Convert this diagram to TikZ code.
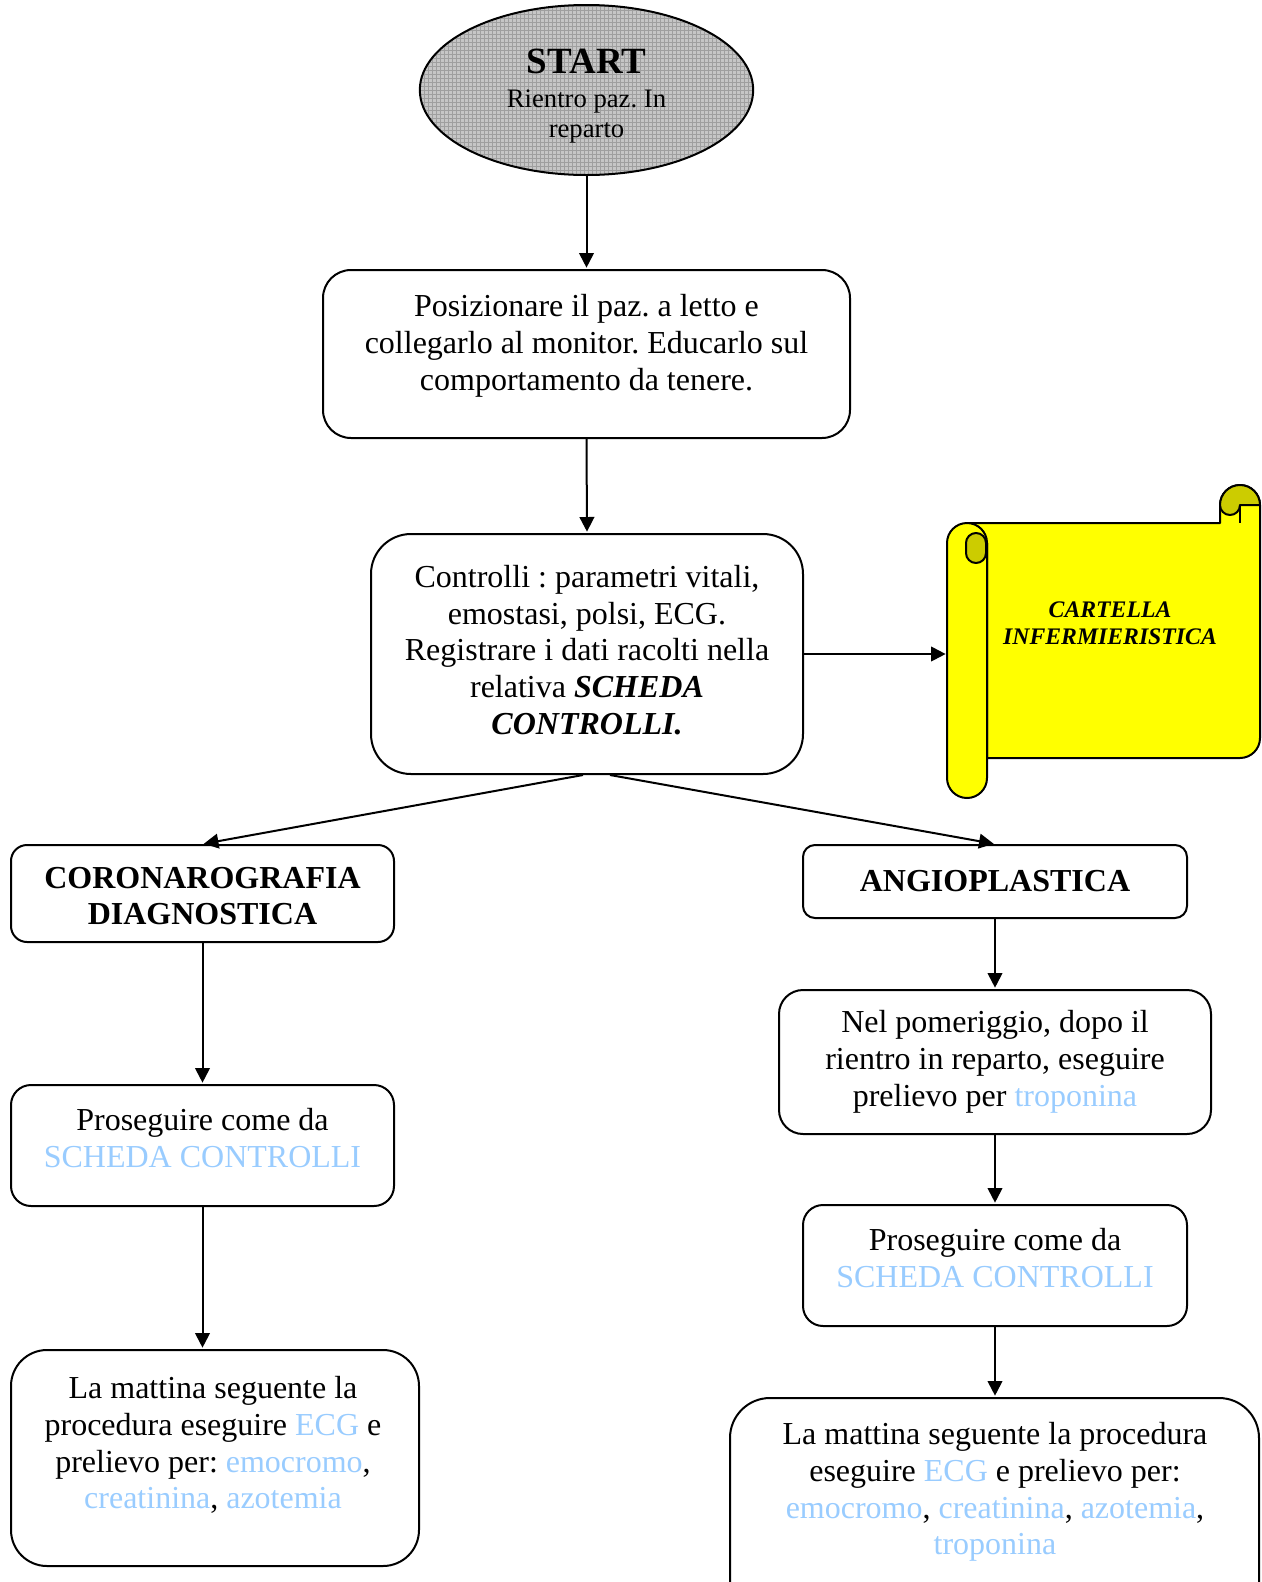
\documentclass[tikz,border=0pt]{standalone}
\usepackage{fontspec}
\setmainfont{Liberation Serif}
\usetikzlibrary{shapes.geometric,arrows.meta,calc,patterns}
\definecolor{lb}{HTML}{99CCFF}
\definecolor{scrollY}{HTML}{FFFF00}
\definecolor{scrollD}{HTML}{CCCC00}
\newcommand\lk[1]{\textcolor{lb}{#1}}
\frenchspacing
\begin{document}
\begin{tikzpicture}[x=0.75pt,y=-0.75pt,
  box/.style={draw, line width=1.5pt, rounded corners=#1, inner sep=0pt},
  txt/.style={align=center, inner sep=0pt, font=\fontsize{24}{27.6}\selectfont},
  arr/.style={line width=1.5pt, -{Triangle[length=11pt,width=11pt]}, shorten >=1pt},
  scrl/.style={line width=1.5pt, line join=round}
]
\useasboundingbox (0,0) rectangle (1261,1582);

% START ellipse
\node[draw, line width=1.5pt, ellipse, minimum width=250pt, minimum height=127.5pt,
      inner sep=0pt, preaction={fill=gray!45}, pattern=grid, pattern color=gray!75] (start) at (586.5,90) {};
\node[align=center, inner sep=0pt, anchor=north, font=\fontsize{20}{22.5}\selectfont] (startt) at (586.5,48.5)
  {{\fontsize{27.75}{30}\selectfont\bfseries START}\\[3pt]Rientro paz. In\\reparto};

% box 2
\node[box=21pt, minimum width=395.25pt, minimum height=126pt] (b2) at (586.5,354) {};
\node[txt] (b2t) at (586.5,346) {Posizionare il paz. a letto e\\collegarlo al monitor. Educarlo sul\\comportamento da tenere.};

% box 3
\node[box=30pt, minimum width=324pt, minimum height=180pt] (b3) at (587,654) {};
\node[txt] (b3t) at (587,650) {Controlli : parametri vitali,\\emostasi, polsi, ECG.\\Registrare i dati racolti nella\\relativa \textbf{\textit{SCHEDA}}\\\textbf{\textit{CONTROLLI.}}};

% scroll
\draw[scrl, fill=scrollY] (967,523) -- (1220,523) -- (1220,505)
  arc[start angle=180, end angle=360, radius=20] -- (1260,738)
  arc[start angle=0, end angle=90, radius=20] -- (987,758) -- (987,543) -- cycle;
\draw[scrl, fill=scrollD] (1220,505) arc[start angle=180, end angle=360, radius=20]
  -- (1240,505) arc[start angle=0, end angle=180, radius=10] -- cycle;
\draw[scrl] (1240,505) -- (1240,523);
\draw[scrl, fill=scrollY] (947,543) -- (947,778) arc[start angle=180, end angle=0, radius=20]
  -- (987,543) arc[start angle=0, end angle=-180, radius=20] -- cycle;
\draw[scrl, fill=scrollD] (966,553) -- (966,543) arc[start angle=180, end angle=360, radius=10]
  -- (986,553) arc[start angle=0, end angle=180, radius=10] -- cycle;
\node[align=center, inner sep=0pt, font=\fontsize{17.8}{20.3}\selectfont\bfseries\itshape] (cart) at (1110,623)
  {CARTELLA\\INFERMIERISTICA};
\coordinate (scrollL) at (947,654);

% left column
\node[box=12pt, minimum width=287.25pt, minimum height=72.75pt] (coro) at (202.5,893.5) {};
\node[txt, font=\fontsize{24}{27.6}\selectfont\bfseries] (corot) at (202.5,896) {CORONAROGRAFIA\\DIAGNOSTICA};
\node[box=15pt, minimum width=287.25pt, minimum height=90.75pt] (prosL) at (202.5,1145.5) {};
\node[txt] (prosLt) at (202.5,1138) {Proseguire come da\\\lk{SCHEDA CONTROLLI}};
\node[box=27pt, minimum width=306pt, minimum height=162pt] (matL) at (215,1458) {};
\node[txt] (matLt) at (213,1445) {La mattina seguente la\\procedura eseguire \lk{ECG} e\\prelievo per: \lk{emocromo},\\\lk{creatinina}, \lk{azotemia}};

% right column
\node[box=9pt, minimum width=288pt, minimum height=54.75pt] (angio) at (995,881.5) {};
\node[txt, font=\fontsize{24}{27.6}\selectfont\bfseries] (angiot) at (995,881) {ANGIOPLASTICA};
\node[box=18pt, minimum width=324pt, minimum height=108pt] (nel) at (995,1062) {};
\node[txt] (nelt) at (995,1062) {Nel pomeriggio, dopo il\\rientro in reparto, eseguire\\prelievo per \lk{troponina}};
\node[box=15pt, minimum width=288pt, minimum height=90.75pt] (prosR) at (995,1265.5) {};
\node[txt] (prosRt) at (995,1258) {Proseguire come da\\\lk{SCHEDA CONTROLLI}};
\node[box=30pt, minimum width=396.75pt, minimum height=181.5pt] (matR) at (994.5,1519) {};
\node[txt] (matRt) at (995,1492) {La mattina seguente la procedura\\eseguire \lk{ECG} e prelievo per:\\\lk{emocromo}, \lk{creatinina}, \lk{azotemia},\\\lk{troponina}};

% connectors
\draw[arr] (start.south) -- (b2.north);
\draw[arr] (b2.south) -- (b3.north);
\draw[arr] (b3.east) -- (scrollL);
\draw[arr] ($(b3.south)+(-4,0)$) -- (coro.north);
\draw[arr] ($(b3.south)+(23,0)$) -- (angio.north);
\draw[arr] (coro.south) -- (prosL.north);
\draw[arr] (prosL.south) -- (prosL.south |- matL.north);
\draw[arr] (angio.south) -- (nel.north);
\draw[arr] (nel.south) -- (prosR.north);
\draw[arr] (prosR.south) -- (prosR.south |- matR.north);
\end{tikzpicture}
\end{document}
